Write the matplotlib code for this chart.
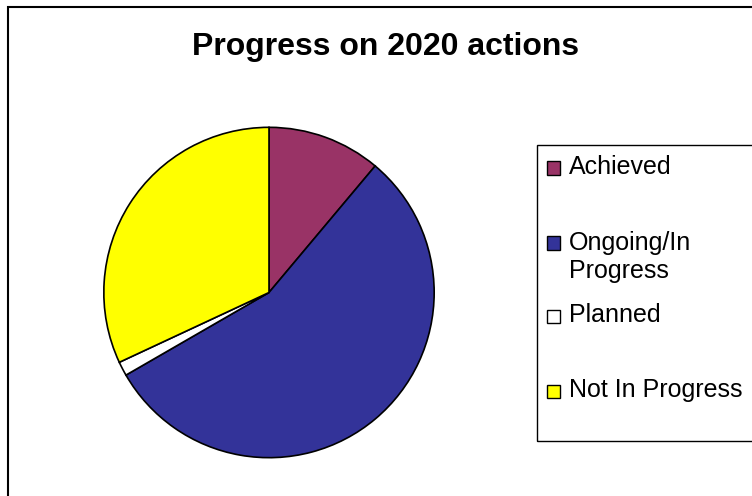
import matplotlib.pyplot as plt
from matplotlib.patches import Rectangle

plt.rcParams['font.family'] = ['Liberation Sans', 'DejaVu Sans']

labels = ['Achieved', 'Ongoing/In\nProgress', 'Planned', 'Not In Progress']
counts = [8, 40, 1, 23]
colors = ['#993366', '#333399', '#ffffff', '#ffff00']

W, H = 752, 496
fig = plt.figure(figsize=(W / 100, H / 100), dpi=100)

# outer chart border (runs off the right and bottom edge)
fig.patches.append(Rectangle((8 / W, -0.1), 1.2, (H - 7) / H + 0.1,
                             transform=fig.transFigure, fill=False,
                             edgecolor='black', linewidth=1.5))

fig.text(386 / W, 1 - 47 / H, 'Progress on 2020 actions', ha='center',
         va='center', fontsize=23, fontweight='bold')

cx, cy, r = 269, 292.5, 166
ax = fig.add_axes([(cx - r) / W, 1 - (cy + r) / H, 2 * r / W, 2 * r / H])
wedges, _ = ax.pie(counts, colors=colors, startangle=90, counterclock=False,
                   wedgeprops=dict(edgecolor='black', linewidth=1.2))
ax.set_xlim(-1.005, 1.005)
ax.set_ylim(-1.005, 1.005)
ax.set_aspect('equal')

# legend box
fig.patches.append(Rectangle((537 / W, 1 - 441 / H), 0.5, (441 - 145) / H,
                             transform=fig.transFigure, fill=False,
                             edgecolor='black', linewidth=1))
ys = [167, 257, 315, 390]
for lab, col, y in zip(labels, colors, ys):
    first_y = y - 15 if '\n' in lab else y
    fig.patches.append(Rectangle((547 / W, 1 - (first_y + 7.5) / H), 13 / W, 13 / H,
                                 transform=fig.transFigure, facecolor=col,
                                 edgecolor='black', linewidth=1))
    fig.text(569 / W, 1 - y / H, lab, ha='left', va='center', fontsize=18,
             linespacing=1.22)

fig.savefig('out.png', dpi=100)
